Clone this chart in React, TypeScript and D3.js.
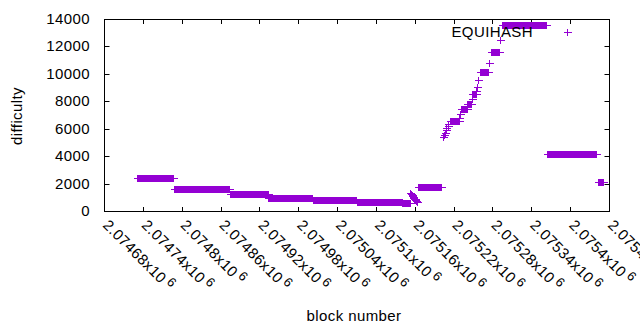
import React, { useRef, useEffect } from 'react';
import * as d3 from 'd3';

// axis ticks
const xTicks = [2074680, 2074740, 2074800, 2074860, 2074920, 2074980, 2075040, 2075100, 2075160, 2075220, 2075280, 2075340, 2075400, 2075460];
const yTicks = [0, 2000, 4000, 6000, 8000, 10000, 12000, 14000];

// plateaus: difficulty held over a range of blocks
const runStart = [2074731, 2074788, 2074874, 2074934, 2075003, 2075070, 2075141, 2075165, 2075215, 2075232, 2075241, 2075249, 2075260, 2075277, 2075294, 2075364, 2075443];
const runEnd = [2074787, 2074873, 2074933, 2075002, 2075069, 2075140, 2075152, 2075200, 2075228, 2075240, 2075247, 2075254, 2075273, 2075290, 2075363, 2075440, 2075450];
const runDifficulty = [2390, 1580, 1240, 930, 780, 630, 560, 1730, 6580, 7420, 7800, 8565, 10110, 11610, 13560, 4130, 2090];

// single blocks on the steep parts
const pointBlock = [2075153, 2075154, 2075155, 2075156, 2075157, 2075158, 2075159, 2075160, 2075161, 2075162, 2075163,
  2075203, 2075205, 2075206, 2075208, 2075209, 2075211, 2075212, 2075229, 2075230, 2075248, 2075255, 2075256, 2075258, 2075275, 2075292];
const pointDifficulty = [1280, 1220, 1150, 1100, 1030, 980, 910, 860, 800, 740, 690,
  5400, 5560, 5720, 5880, 6040, 6200, 6380, 6800, 7050, 8150, 8770, 9060, 9550, 10770, 12470];

const seriesName = 'EQUIHASH';
const color = '#9400d3';

const App = () => {
  const svgRef = useRef<SVGSVGElement>(null);

  useEffect(() => {
    const svg = d3.select(svgRef.current);
    svg.selectAll('*').remove();

    const left = 104, right = 609, top = 19, bottom = 211;
    const font = '"Liberation Sans", Arial, sans-serif';
    const fs = 15;
    const ls = 0.4;

    const x = d3.scaleLinear().domain([xTicks[0], xTicks[xTicks.length - 1]]).range([left, right]);
    const y = d3.scaleLinear().domain([0, 14000]).range([bottom, top]);

    const plus = (px: number, py: number) => {
      const cx = Math.round(px) + 0.5, cy = Math.round(py) + 0.5;
      return `M${cx - 4},${cy}H${cx + 4}M${cx},${cy - 4}V${cy + 3}`;
    };

    // border
    svg.append('rect')
      .attr('x', left + 0.5).attr('y', top + 0.5)
      .attr('width', right - left).attr('height', bottom - top)
      .attr('fill', 'none').attr('stroke', '#000').attr('stroke-width', 1);

    // ticks, inward on all sides
    let tk = '';
    xTicks.forEach(v => {
      const px = Math.round(x(v)) + 0.5;
      tk += `M${px},${bottom + 0.5}V${bottom - 4}M${px},${top + 0.5}V${top + 5}`;
    });
    yTicks.forEach(v => {
      const py = Math.round(y(v)) + 0.5;
      tk += `M${left + 0.5},${py}H${left + 5.5}M${right + 0.5},${py}H${right - 4.5}`;
    });
    svg.append('path').attr('d', tk).attr('stroke', '#000').attr('fill', 'none');

    // y tick labels
    svg.append('g').selectAll('text').data(yTicks).join('text')
      .attr('x', 90).attr('y', d => y(d) + 5)
      .attr('text-anchor', 'end')
      .attr('font-family', font).attr('font-size', fs)
      .attr('letter-spacing', ls)
      .text(d => String(d));

    // x tick labels, rotated
    const xl = svg.append('g').selectAll('g').data(xTicks).join('g')
      .attr('transform', d => `translate(${x(d) - 2},${226}) rotate(45)`);
    const t = xl.append('text')
      .attr('font-family', font).attr('font-size', fs)
      .attr('letter-spacing', ls);
    t.append('tspan').text(d => `${+(d / 1e6).toPrecision(6)}x10`);
    t.append('tspan').attr('dy', -5).attr('dx', 3).attr('font-size', 13).text('6');

    // data points
    const pts: [number, number][] = [];
    runStart.forEach((s, i) => {
      for (let b = s; b <= runEnd[i]; b++) pts.push([b, runDifficulty[i]]);
    });
    pointBlock.forEach((b, i) => pts.push([b, pointDifficulty[i]]));
    svg.append('path')
      .attr('d', pts.map(([b, d]) => plus(x(b), y(d))).join(''))
      .attr('fill', 'none').attr('stroke', color).attr('stroke-width', 1)
      .attr('shape-rendering', 'crispEdges');

    // key
    svg.append('text')
      .attr('x', 533).attr('y', 37)
      .attr('text-anchor', 'end')
      .attr('font-family', font).attr('font-size', fs)
      .attr('letter-spacing', ls)
      .attr('fill', '#000')
      .text(seriesName);
    svg.append('path').attr('d', plus(567, 32))
      .attr('fill', 'none').attr('stroke', color).attr('stroke-width', 1)
      .attr('shape-rendering', 'crispEdges');

    // axis titles
    svg.append('text')
      .attr('transform', 'translate(22,116) rotate(-90)')
      .attr('text-anchor', 'middle')
      .attr('font-family', font).attr('font-size', fs)
      .attr('letter-spacing', ls)
      .text('difficulty');
    svg.append('text')
      .attr('x', 354).attr('y', 321)
      .attr('text-anchor', 'middle')
      .attr('font-family', font).attr('font-size', fs)
      .attr('letter-spacing', ls)
      .text('block number');
  }, []);

  return (
    <svg ref={svgRef} width={640} height={330}
      style={{ position: 'absolute', left: 0, top: 0, background: '#fff' }} />
  );
};

export default App;
